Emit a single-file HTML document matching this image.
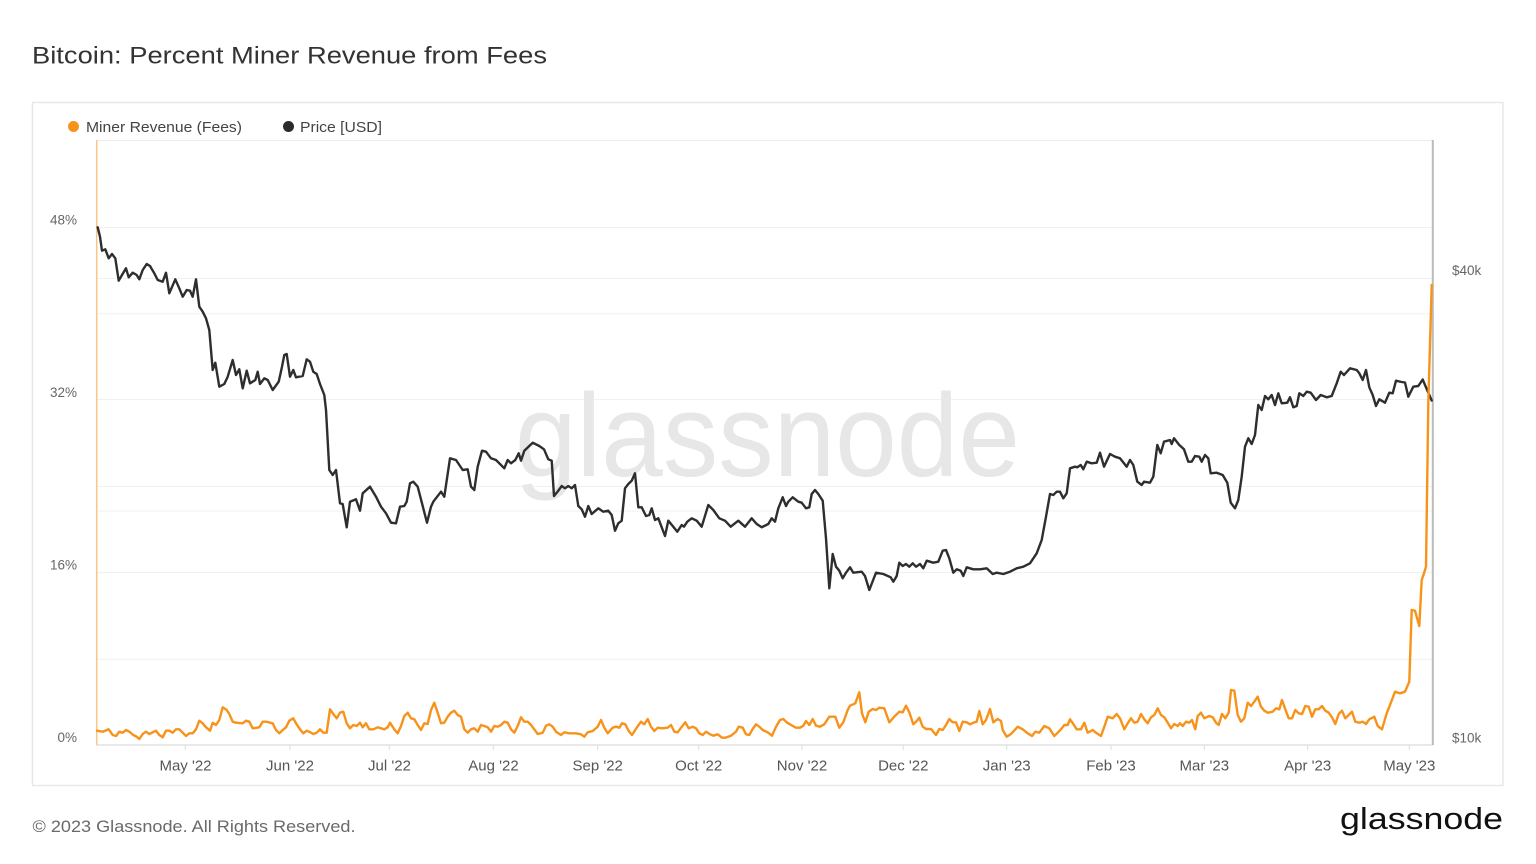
<!DOCTYPE html>
<html>
<head>
<meta charset="utf-8">
<style>
  html,body{margin:0;padding:0;background:#fff;}
  svg{display:block;}
  text{font-family:"Liberation Sans",Arial,sans-serif;}
</style>
</head>
<body>
<svg width="1536" height="864" viewBox="0 0 1536 864" xmlns="http://www.w3.org/2000/svg">
  <rect x="0" y="0" width="1536" height="864" fill="#ffffff"/>

  <!-- Title -->
  <text x="32" y="63.5" font-size="24" fill="#333333" textLength="515" lengthAdjust="spacingAndGlyphs">Bitcoin: Percent Miner Revenue from Fees</text>

  <!-- Card -->
  <rect x="32.5" y="102.5" width="1470.5" height="683" fill="#ffffff" stroke="#e8e8e8" stroke-width="1.5"/>

  <!-- Legend -->
  <circle cx="73.5" cy="126.5" r="5.5" fill="#f7931a"/>
  <text x="86" y="132" font-size="15" fill="#444444" textLength="156" lengthAdjust="spacingAndGlyphs">Miner Revenue (Fees)</text>
  <circle cx="288.5" cy="126.5" r="5.5" fill="#2b2b2b"/>
  <text x="300" y="132" font-size="15" fill="#444444" textLength="82" lengthAdjust="spacingAndGlyphs">Price [USD]</text>

  <!-- Plot top border -->
  <line x1="96.5" y1="140.5" x2="1433" y2="140.5" stroke="#ececec" stroke-width="1"/>

  <!-- Grid lines -->
  <g stroke="#f1f1f1" stroke-width="1">
    <line x1="97" y1="227.5" x2="1432" y2="227.5"/>
    <line x1="97" y1="278.5" x2="1432" y2="278.5"/>
    <line x1="97" y1="313.8" x2="1432" y2="313.8"/>
    <line x1="97" y1="399.5" x2="1432" y2="399.5"/>
    <line x1="97" y1="486.5" x2="1432" y2="486.5"/>
    <line x1="97" y1="511" x2="1432" y2="511"/>
    <line x1="97" y1="572.5" x2="1432" y2="572.5"/>
    <line x1="97" y1="659.3" x2="1432" y2="659.3"/>
  </g>

  <!-- Watermark -->
  <text x="515" y="476" font-size="118" fill="#e7e7e7" textLength="505" lengthAdjust="spacingAndGlyphs">glassnode</text>

  <!-- Bottom axis -->
  <line x1="96.5" y1="745" x2="1433" y2="745" stroke="#e2e2e2" stroke-width="1.5"/>
  <g stroke="#dddddd" stroke-width="1">
    <line x1="185.3" y1="745" x2="185.3" y2="750"/>
    <line x1="290" y1="745" x2="290" y2="750"/>
    <line x1="389.3" y1="745" x2="389.3" y2="750"/>
    <line x1="493.3" y1="745" x2="493.3" y2="750"/>
    <line x1="597.7" y1="745" x2="597.7" y2="750"/>
    <line x1="698.7" y1="745" x2="698.7" y2="750"/>
    <line x1="802" y1="745" x2="802" y2="750"/>
    <line x1="903.3" y1="745" x2="903.3" y2="750"/>
    <line x1="1006.7" y1="745" x2="1006.7" y2="750"/>
    <line x1="1111" y1="745" x2="1111" y2="750"/>
    <line x1="1204.3" y1="745" x2="1204.3" y2="750"/>
    <line x1="1307.7" y1="745" x2="1307.7" y2="750"/>
    <line x1="1409.3" y1="745" x2="1409.3" y2="750"/>
  </g>

  <!-- X labels -->
  <g font-size="15" fill="#555555" text-anchor="middle">
    <text x="185.5" y="770.5">May '22</text>
    <text x="290" y="770.5">Jun '22</text>
    <text x="389.5" y="770.5">Jul '22</text>
    <text x="493.5" y="770.5">Aug '22</text>
    <text x="597.7" y="770.5">Sep '22</text>
    <text x="698.7" y="770.5">Oct '22</text>
    <text x="802" y="770.5">Nov '22</text>
    <text x="903.3" y="770.5">Dec '22</text>
    <text x="1006.7" y="770.5">Jan '23</text>
    <text x="1111" y="770.5">Feb '23</text>
    <text x="1204.3" y="770.5">Mar '23</text>
    <text x="1307.7" y="770.5">Apr '23</text>
    <text x="1409.3" y="770.5">May '23</text>
  </g>

  <!-- Left Y labels -->
  <g font-size="13.5" fill="#666666" text-anchor="end">
    <text x="77" y="224.3">48%</text>
    <text x="77" y="396.8">32%</text>
    <text x="77" y="569.5">16%</text>
    <text x="77" y="742">0%</text>
  </g>

  <!-- Right Y labels -->
  <g font-size="13.5" fill="#666666">
    <text x="1452" y="275">$40k</text>
    <text x="1452" y="742.5">$10k</text>
  </g>

  <!-- Left axis line (orange) -->
  <line x1="96.7" y1="140" x2="96.7" y2="745" stroke="#fbc58a" stroke-width="1.5"/>
  <!-- Right axis line (gray) -->
  <line x1="1432.8" y1="140" x2="1432.8" y2="745" stroke="#bbbbbb" stroke-width="2"/>

  <!-- Price series -->
  <polyline fill="none" stroke="#2e2e2e" stroke-width="2.4" stroke-linejoin="round" stroke-linecap="round" points="97.7,227.3 100,236.7 102,250.7 105.3,249.3 108.7,258.3 112,254 115.3,258.3 118.7,280.7 122,275 126,268.3 128.7,277.3 132.7,272.7 136.7,275 139.3,279.3 142.7,270 146.7,264 150,266 154.3,273.3 157.7,280 162.7,281.7 166,272.7 169.3,293.3 175.3,279.3 179.3,288.3 182.7,296.7 186.7,290 190,290.7 192.7,296.7 196,279.3 199.3,306.7 202.7,311.7 206,318.3 209.3,330 212.7,370 215.3,362.7 219.3,386.7 224.3,384 227.7,376.7 232.7,360 236,375 239.3,369.3 242.7,388.3 246.7,370.7 250,383.3 255.3,380 257.7,371.7 260,384 264.3,378.3 267.7,380 272.7,390 278.7,381.7 282,366.7 284.3,355 286.7,354 290,376.7 293.3,370 296,377.3 302.7,376 306.7,359.3 310,361.7 313.3,371.7 316.7,374 320,384 324.3,395 326,410 329.3,470 332.7,475 336,470 340,503.3 342.7,504 346.7,527.3 350,501.7 356,499.3 360,510.7 362.7,493.3 370,486.7 376,496.7 381,506.7 386,513.3 391,522.7 396,523.3 400,506.7 404.3,506 406.7,501.7 410,483.3 413.3,481.7 417.7,486.7 422,503.3 427,522.7 431,506.7 433.3,501.7 441,491.7 444.3,496.7 450,458.3 456,460 462.7,470 467.7,469.3 471,486.7 474.3,490 477.7,466.7 482,450.7 486,451.7 491,458.3 496,460 504.3,468.3 507.7,460 511,463.3 515.3,460 518.7,453.3 521,460.7 524.3,450.7 532.7,442.7 539.3,446 544,449.3 548.3,459.3 551.7,460.7 554,496 558.3,490.7 561.7,486 565,488.3 568.3,486 571.7,488.3 575,485 578.3,506 581.7,509.3 585,516.7 588.3,506 591.7,514 598.3,508.3 603.3,511.7 608.3,510.7 611.7,515 615,530.7 618.3,523.3 621.7,520.7 625,488.3 628.3,484 631.7,480.7 635,473.3 638.3,507.3 641.7,507.3 646,516 649.3,515 651.7,508.3 655,520 658.3,518.3 665,536 668.3,520.7 672.7,526 677.3,531.7 681.7,525 684,526.7 687.3,521.7 691.7,518.3 696.7,520.7 701.7,526.7 708.3,505 713.3,510 719.3,518.3 725,520.7 730.7,526.7 738.3,520.7 745,526.7 751.7,518.3 756.7,524 761.7,527.3 768.3,524 771.7,518.3 775,521.7 778.3,508.3 782.7,497.3 786,506 788.3,501.7 792.7,497.3 798.3,501.7 801.7,502.7 806,508.3 809.3,507.3 811.7,494 815,490 818.3,494 822.7,500.7 826,538.3 829.3,588.3 832.7,554 836,566.7 839.3,570.7 842.7,578.3 846,572.7 850,567.3 853.3,572.7 861.7,571.7 865,576 869.3,590 876,572.7 883.3,574 890.7,577.3 893.3,581.7 896.7,576 899.3,562.7 902.7,566 906,564 909.3,566.7 912.7,563.3 916,566.7 920,564 923.3,568.3 926.7,560.7 933.3,562.7 938.3,561.7 942.7,550.7 946,550 949.3,558.3 953.3,572.7 956.7,569.3 960.7,570.7 963.3,576 966.7,567.3 973.3,569.3 980,569.3 986.7,568.3 992.7,574 996.7,572.7 1003.3,574 1010,571.7 1016.7,568.3 1023.3,566.7 1030,563.3 1036.7,553.3 1041.7,540 1046,516.7 1050,494 1053.3,495 1056.7,491.7 1060,491.7 1063.3,498.3 1066.7,493.3 1070,468.3 1075,466.7 1077.3,467.3 1080.7,465 1083.3,469.3 1086.7,461.7 1091.7,463.3 1096.7,462.7 1100,452.7 1104,466.7 1110,454 1115,456.7 1120,458.3 1126.7,466.7 1130,460 1133.3,465 1137.3,481.7 1141.7,485 1144,481.7 1150,482.7 1153.3,476.7 1157.3,445 1160.7,453.3 1164,441.7 1170,440 1171.7,444 1174,438.3 1179.3,445 1184,449.3 1188.3,461.7 1191.7,461.7 1195,456 1199.3,456.7 1201.7,461.7 1205,455 1208.3,458.3 1210.7,473.3 1216.7,472.7 1222.7,475 1227.3,482.7 1230.7,502.7 1235,508.3 1238.3,500 1241.7,476.7 1245,446.7 1248.3,438.3 1251.7,444 1255,435 1258.3,405 1261.7,410 1265,396 1268.3,399.3 1271.7,395 1275,405 1278.3,393.3 1281.7,403.3 1287.3,402.7 1290,397.3 1293.3,407.3 1296.7,406 1299.3,393.3 1303.3,396 1306.7,391.7 1310.7,392.7 1316,400 1320.7,395 1326.7,397.3 1331.7,396 1336.7,383.3 1340.7,371.7 1344,375 1350,368.3 1356.7,370 1359.3,373.3 1362.7,380 1366,370 1369.3,387.3 1372.7,395 1376,406 1379.3,399.3 1385,402.7 1389.3,392.7 1392.7,393.3 1396,380.7 1401.7,382 1405,382.5 1408.3,396.7 1413.3,386.7 1418.3,386 1422.7,379.5 1426.7,389 1431.7,400.5"/>

  <!-- Fees series -->
  <polyline fill="none" stroke="#f7931a" stroke-width="2.4" stroke-linejoin="round" stroke-linecap="round" points="97,730.7 102.7,731.7 108.7,729.3 112.7,735 116,736 119.3,731.7 122.7,732.7 126,730 129.3,731.7 133.3,735 136.7,736.7 139.3,739 142.7,734 146,731.7 149.3,734 156,730.7 159.3,735 162.7,737.3 166,730.7 169.3,730.7 172.7,732.7 176,729.3 179.3,729.3 186,736 189.3,733.3 192.7,733.3 196,729.3 199.3,720.7 202.7,723.3 206,727.3 210,730.7 212.7,722.7 216,725 219.3,720 222.7,707.3 226.7,710 229.3,714 232.7,721.7 236,722.7 242.7,723.3 246,720.7 249.3,721.7 252.7,728.3 259.3,727.3 262.7,721.7 266,721.7 272.7,723.3 276,730 279.3,733.3 282.7,730 286,727.3 289.3,720.7 293.3,718.3 296,723.3 300,729.3 303.3,733.3 306.7,730.7 309.3,731.7 313.3,734 316.7,732.7 320,729.3 323.3,732.7 326.7,732.7 330,709.3 333.3,714 336.7,718.3 340,712.7 343.3,711.7 346.7,723.3 350,728.3 353.3,725 356.7,726 360,722.7 362.7,727.3 366,723.3 369.3,729.3 373.3,729.3 377.7,727.3 381,728.3 384.3,729.3 387.7,727.3 390,722.7 394.3,729.3 397.7,733.3 401,726 404.3,716 407.7,712.7 411,718.3 414.3,719.3 417.7,725 421,730 424.3,723.3 427.7,724 431,710 434.3,702.7 437.7,712.7 441,723.3 444.3,722.7 447.7,716.7 451,712.7 454.3,710.7 457.7,715 461,716.7 464.3,729.3 467.7,732.7 471,729.3 474.3,728.3 477.7,731.7 481,725 484.3,726 487.7,727.3 491,731.7 494.3,726 497.7,726.7 501,725 504.3,721.7 507.7,722.7 511,729.3 514.3,732.7 517.7,726 521,717.3 524.3,721.7 527.7,721.7 531,725 534.3,729.3 537.7,734 542.7,732.7 546,725.7 549.3,724.3 552.7,726.7 556,731.7 561,735 564.3,732.3 569.3,733.3 576,733.3 581,734.3 584.3,736.7 587.7,732.3 592.7,731 597.7,726.7 601,720 604.3,727.7 607.7,733.3 612.7,727.7 616,726.7 619.3,727.7 622,723.3 625.3,724.3 628.7,731 632,735 636.7,727.7 641,721.7 644.3,724.3 647.7,719 651,726.7 654.3,731 657.7,727.7 662.7,728.3 667.7,727.7 671,725 674.3,731.7 677.7,732.3 681,727.7 685.3,722.3 688.7,728.3 692.7,726.7 696,728.3 699.3,733.3 702.7,735 706,731.7 710,734.3 713.3,735.7 717.7,734.3 722,737.7 725.3,737.7 731,735.7 736,731.7 738.7,726.7 742.7,727.7 746,734.3 749.3,735 752.7,729 756,724.3 759.3,726.7 762.7,730 767.7,732.3 772,735.7 776,726.7 780,720 783.3,719 786.7,722.3 791,725 796,727.7 800,727.7 803.3,725.7 806,721 809.3,725 812.7,719 816,725.7 820,726.7 824.3,724.3 829.3,716.7 835.3,716.7 839.3,727.7 843.3,722.3 847.7,710 850,705.7 855.3,703.3 859.3,692.3 862,713.3 865.3,722.3 868.7,711.7 872.7,709 876,710 879.3,707.7 884.3,708.3 889.3,722.3 894.3,716.7 899.3,711.7 902.7,712.3 906,705.7 909.3,712.3 913.3,724.3 916.7,721 919.3,717.7 922.7,726.7 926,729 931,729 936,735 939.3,729 942.7,730 946,725 949.3,719 952.7,722.3 956,722.3 959.3,731 962.7,721.7 966.7,722.3 970,724.3 974.3,722.3 976.7,721.7 979.3,711 982.7,724.3 986,720 990,709 993.3,722.3 997.7,719 1001,721 1002.7,730 1006.7,736.7 1011,734 1017.7,726.7 1022.7,729.3 1027.7,733.3 1032,736 1035.3,731.7 1039.3,732.7 1044.3,726 1049.3,728.3 1054.3,736 1057.7,732.7 1061,729.3 1064.3,725 1067.7,725 1070,719.3 1073.3,724 1076.7,729.3 1081,729.3 1084.3,722.7 1087.7,732.7 1092.7,730 1096,732.7 1101,736 1104.3,726.7 1107.7,716.7 1112.7,718.3 1116.7,714 1120,718.3 1124.3,729.3 1127.7,723.3 1131,718.3 1134.3,722.7 1137.7,721.7 1141,714 1144.3,719.3 1147.7,723.3 1151,717.3 1154.3,715 1157.7,708.3 1161,715 1164.3,717.3 1167.7,722.7 1171,728.3 1174.3,724 1177.7,726 1180,723.3 1182.7,726 1186,721.7 1189.3,722.7 1192,720 1195.3,729.3 1197.7,716 1201,712.7 1204.3,718.3 1209.3,716 1212.7,717.3 1216,722.7 1218.7,725 1222,714 1225.3,718.3 1228.7,712.7 1231,690 1234.3,690.7 1237.7,715 1241,721.7 1244.3,718.3 1247.7,702.7 1251,706 1254.3,701.7 1257.7,696.7 1261,706.7 1264.3,710.7 1267.7,712.7 1272.7,711.7 1276,708.3 1279.3,709.3 1282,700 1285.3,709.3 1288.7,718.3 1292,718.3 1295.3,710 1298.7,713.3 1302,714 1305.3,706 1308.7,706.7 1312,716.7 1315.3,709.3 1318.7,709.3 1322,706 1325.3,710.7 1328.7,712.7 1332,717.3 1335.3,724 1338.7,714 1342,710.7 1345.3,718.3 1348.7,715 1352,711.7 1355.3,721.7 1359.3,722.7 1362.7,721.7 1366,724 1369.3,719.3 1374.3,716.7 1377.7,726 1382,729.3 1386.7,713.3 1390,705 1395,691.7 1400,693.3 1405,691.7 1409.3,681.7 1411.7,610 1415,610.7 1419.3,626 1421.7,580 1424,573.3 1426,566.7 1428.3,403.3 1431.7,285"/>

  <!-- Footer -->
  <text x="32.5" y="832" font-size="17" fill="#6a6a6a" textLength="323" lengthAdjust="spacingAndGlyphs">© 2023 Glassnode. All Rights Reserved.</text>
  <text x="1340" y="829" font-size="31" fill="#111111" textLength="163" lengthAdjust="spacingAndGlyphs">glassnode</text>
</svg>
</body>
</html>
